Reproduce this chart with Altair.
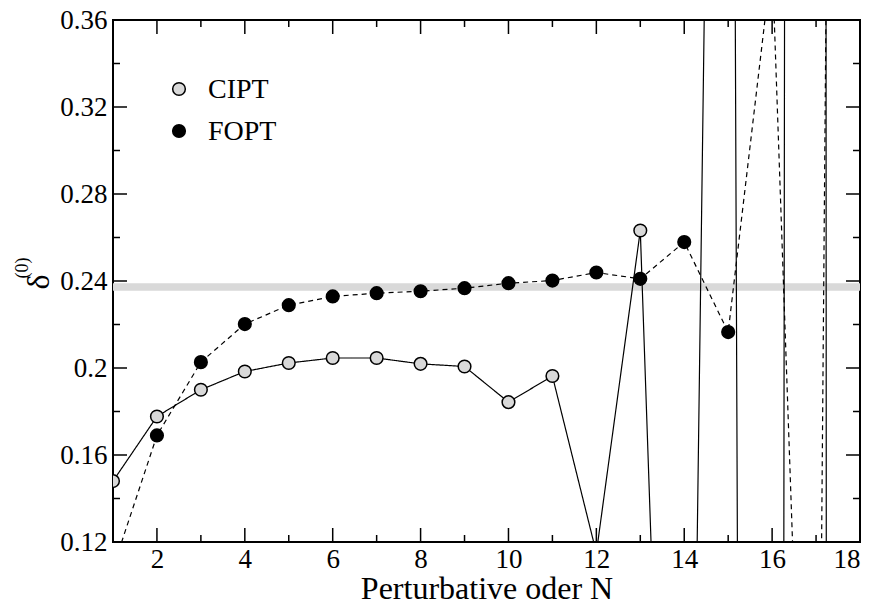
import altair as alt
import pandas as pd

# ---- data ----
orders = list(range(1, 19))
cipt = [0.148, 0.1777, 0.190, 0.1984, 0.2023, 0.2046, 0.2046, 0.2019, 0.2007,
        0.1843, 0.1963, 0.115, 0.2632, -0.323, 1.18, -3.88, 11.12, -36.2]
fopt = [0.108, 0.169, 0.2027, 0.2202, 0.2289, 0.2329, 0.2344, 0.2353, 0.2367,
        0.2390, 0.2402, 0.2439, 0.2410, 0.2579, 0.2165, 0.388, -0.189, 2.26]
series_names = ["CIPT", "FOPT"]
series_fill = ["#d9d9d9", "#000000"]
band_low, band_high = 0.2355, 0.2390
x_major = [2, 4, 6, 8, 10, 12, 14, 16, 18]
x_minor = [1, 3, 5, 7, 9, 11, 13, 15, 17]
y_major = [0.12, 0.16, 0.20, 0.24, 0.28, 0.32, 0.36]
y_minor = [0.14, 0.18, 0.22, 0.26, 0.30, 0.34]

W, H = 747, 522
FONT = "Liberation Serif"

df = pd.DataFrame({
    "N": orders * 2,
    "delta": cipt + fopt,
    "series": [series_names[0]] * len(orders) + [series_names[1]] * len(orders),
})

xs = alt.Scale(domain=[1, 18], nice=False, zero=False)
ys = alt.Scale(domain=[0.12, 0.36], nice=False, zero=False)

x_axis = alt.Axis(values=x_major, format="d", ticks=False, domain=False, grid=False,
                  labelFont=FONT, labelFontSize=27, labelColor="black", labelPadding=4,
                  title="Perturbative oder N", titleFont=FONT, titleFontSize=32,
                  titleFontWeight="normal", titleColor="black", titlePadding=1)
y_axis = alt.Axis(values=y_major, format=".2~f", ticks=False, domain=False, grid=False,
                  labelFont=FONT, labelFontSize=27, labelColor="black", labelPadding=6,
                  title=None)

band = alt.Chart(pd.DataFrame({"x0": [1], "x1": [18], "y0": [band_low], "y1": [band_high]})).mark_rect(
    color="#d9d9d9").encode(
    x=alt.X("x0:Q", scale=xs, axis=x_axis), x2="x1:Q",
    y=alt.Y("y0:Q", scale=ys, axis=y_axis), y2="y1:Q")

lines = alt.Chart(df).mark_line(clip=True, color="black", strokeWidth=1.2).encode(
    x=alt.X("N:Q", scale=xs),
    y=alt.Y("delta:Q", scale=ys),
    detail="series:N",
    strokeDash=alt.StrokeDash("series:N", scale=alt.Scale(domain=series_names, range=[[1, 0], [5, 4]]),
                              legend=None),
)

points = alt.Chart(df).mark_point(clip=True, filled=True, shape="circle", size=160,
                                  stroke="black", strokeWidth=1.5, opacity=1).encode(
    x=alt.X("N:Q", scale=xs),
    y=alt.Y("delta:Q", scale=ys),
    fill=alt.Fill("series:N", scale=alt.Scale(domain=series_names, range=series_fill), legend=None),
)

def tick_layer(vals, field, side, length):
    d = pd.DataFrame({field: vals})
    m = alt.Chart(d).mark_rule(color="black", strokeWidth=1.5)
    if field == "tx":
        if side == "bottom":
            return m.encode(x=alt.X("tx:Q", scale=xs), y=alt.value(H), y2=alt.value(H - length))
        return m.encode(x=alt.X("tx:Q", scale=xs), y=alt.value(0), y2=alt.value(length))
    if side == "left":
        return m.encode(y=alt.Y("ty:Q", scale=ys), x=alt.value(0), x2=alt.value(length))
    return m.encode(y=alt.Y("ty:Q", scale=ys), x=alt.value(W), x2=alt.value(W - length))

ticks = [
    tick_layer(x_major, "tx", "bottom", 14), tick_layer(x_minor, "tx", "bottom", 7),
    tick_layer(x_major, "tx", "top", 14), tick_layer(x_minor, "tx", "top", 7),
    tick_layer(y_major, "ty", "left", 14), tick_layer(y_minor, "ty", "left", 7),
    tick_layer(y_major, "ty", "right", 14), tick_layer(y_minor, "ty", "right", 7),
]

# legend (inside the plot, top-left)
legend_layers = []
for i, (name, fill) in enumerate(zip(series_names, series_fill)):
    ly = 69 + 42 * i
    d = pd.DataFrame({"label": [name]})
    legend_layers.append(alt.Chart(d).mark_point(filled=True, shape="circle", size=160, fill=fill,
                                                 stroke="black", strokeWidth=1.5, opacity=1).encode(
        x=alt.value(66), y=alt.value(ly)))
    legend_layers.append(alt.Chart(d).mark_text(font=FONT, fontSize=28, color="black", align="left",
                                                baseline="middle").encode(
        text="label:N", x=alt.value(95), y=alt.value(ly + 1)))

ytitle_main = alt.Chart(pd.DataFrame({"t": ["δ"]})).mark_text(
    angle=270, font=FONT, fontSize=32, color="black", align="center", baseline="middle").encode(
    text="t:N", x=alt.value(-74), y=alt.value(262))
ytitle_sup = alt.Chart(pd.DataFrame({"t": ["(0)"]})).mark_text(
    angle=270, font=FONT, fontSize=18, color="black", align="center", baseline="middle").encode(
    text="t:N", x=alt.value(-90), y=alt.value(248))

chart = alt.layer(band, lines, points, *ticks, *legend_layers, ytitle_main, ytitle_sup).properties(
    width=W, height=H,
    autosize=alt.AutoSizeParams(type="none"),
    padding={"left": 105, "top": 12, "right": 8, "bottom": 62},
).configure_view(stroke="black", strokeWidth=2)

chart.save("out.html", embed_options={"renderer": "svg", "actions": False})
